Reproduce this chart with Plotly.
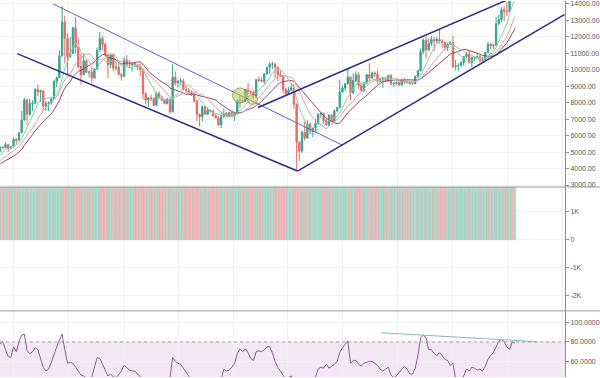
import pandas as pd
import plotly.graph_objects as go
from plotly.subplots import make_subplots

# ---------------- data (3-day candles) ----------------
start_date = "2019-04-16"

# closes before the visible window (only used to warm up the moving averages)
pre_closes = [3800, 3820, 3850, 3880, 3860, 3880, 4000, 4050, 4000, 3950,
              4100, 4150, 4950, 5200, 5150, 5050]

closes = [
    5300, 5270, 5450, 5250, 5320, 5770, 5720, 6180, 6950, 8190,
    7300, 7950, 7980, 8800, 8650, 8720, 7800, 7950, 8000, 8230,
    9300, 9520, 10850, 12900, 11900, 10800, 11000, 12550, 11350, 10200,
    9700, 10550, 9850, 9870, 9500, 10050, 11200, 11900, 11550, 10900,
    10300, 10900, 10100, 10150, 9720, 9600, 10600, 10300, 10300, 10400,
    10300, 10150, 9990, 8550, 8150, 8300, 8250, 7850, 8550, 8300,
    8150, 7960, 8200, 7450, 9550, 9200, 9300, 9320, 8800, 8750,
    8650, 8500, 8100, 7300, 7150, 7750, 7300, 7550, 7500, 7220,
    7080, 6650, 7150, 7350, 7200, 7400, 7200, 7350, 8150, 8150,
    8100, 8800, 8700, 8650, 8400, 9400, 9350, 9300, 9750, 10150,
    10350, 10350, 10150, 9700, 9650, 8800, 8550, 8750, 8900, 7900,
    5600, 5050, 6200, 5850, 6700, 6250, 6450, 6750, 7300, 7350,
    6900, 6650, 7250, 6850, 7500, 7700, 8650, 8900, 9150, 9550,
    8600, 9350, 9700, 9050, 8750, 9200, 9700, 9500, 9800, 9750,
    9300, 9400, 9450, 9350, 9650, 9150, 9180, 9230, 9080, 9430,
    9250, 9250, 9150, 9170, 9600, 9950, 11100, 11800, 11200, 11600,
    11850, 11750, 11850, 11750, 11650, 11350, 11550, 11650, 10200, 10250,
    10250, 10450, 10800, 10950, 10450, 10750, 10750, 10800, 10550, 10600,
    11050, 11550, 11450, 11500, 12800, 13050, 13650, 13550, 13550, 15600,
    15500, 15700]

highs = [
    5350, 5360, 5600, 5500, 5350, 5900, 5850, 6200, 7500, 8300,
    8250, 8250, 8150, 8900, 9100, 8800, 8750, 8100, 8100, 8300,
    9400, 9600, 11200, 13900, 13300, 12200, 12000, 12600, 13200, 11950,
    11000, 11000, 10650, 9950, 10100, 10100, 11350, 12300, 12050, 11650,
    11000, 10950, 10950, 10500, 10600, 9800, 10800, 10900, 10550, 10450,
    10450, 10350, 10400, 10100, 8650, 8350, 8500, 8350, 8650, 8700,
    8450, 8250, 8300, 8300, 10350, 9900, 9400, 9500, 9450, 9100,
    8900, 8750, 8550, 8200, 7350, 7850, 7800, 7700, 7600, 7600,
    7300, 7200, 7400, 7650, 7450, 7450, 7500, 7400, 8200, 8450,
    8300, 8850, 9200, 8750, 8750, 9450, 9600, 9550, 9800, 10200,
    10450, 10500, 10450, 10200, 9950, 9700, 8900, 8950, 9200, 9150,
    7950, 5650, 6300, 6850, 6950, 6800, 6500, 7000, 7350, 7450,
    7400, 7000, 7300, 7300, 7600, 7750, 9400, 9050, 9200, 10050,
    9600, 9800, 9900, 9850, 9250, 9250, 9750, 10400, 9900, 9900,
    9950, 9500, 9550, 9550, 9700, 9750, 9250, 9300, 9300, 9450,
    9500, 9350, 9300, 9200, 9650, 10000, 11300, 11900, 12000, 11900,
    12050, 12000, 12000, 12450, 11850, 11700, 11600, 11750, 12050, 10600,
    10400, 10500, 10850, 11100, 11200, 10800, 10800, 10950, 10900, 10800,
    11100, 11700, 11650, 11600, 13200, 13350, 13800, 13850, 14100, 15750,
    15950, 15850]

lows = [
    5000, 5200, 5260, 5000, 5150, 5300, 5500, 5700, 6150, 6900,
    6600, 7200, 7500, 7900, 8400, 8050, 7500, 7500, 7500, 7900,
    8200, 8950, 9500, 10800, 10400, 9700, 10700, 10950, 11000, 10100,
    9100, 9700, 9800, 9550, 9200, 9450, 10000, 11100, 11200, 10800,
    9500, 10100, 9900, 9950, 9650, 9350, 9600, 10200, 10100, 9900,
    10150, 10000, 9600, 8200, 7900, 7750, 8100, 7800, 7800, 8250,
    8100, 7900, 7900, 7350, 7400, 9050, 8950, 9050, 8750, 8650,
    8550, 8400, 8000, 6900, 6550, 6850, 7250, 7250, 7400, 7150,
    7050, 6600, 6450, 7100, 7150, 7100, 7150, 6900, 7300, 7700,
    8000, 8050, 8500, 8500, 8250, 8300, 9250, 9250, 9100, 9700,
    9750, 10050, 9500, 9300, 9550, 8550, 8450, 8500, 8700, 7650,
    3850, 4450, 4950, 5700, 5800, 6100, 5900, 6200, 6650, 7100,
    6750, 6600, 6600, 6800, 6800, 7450, 7650, 8600, 8700, 9100,
    8150, 8550, 9250, 8850, 8700, 8650, 9100, 9250, 9450, 9550,
    9150, 9250, 8900, 9250, 9250, 9050, 8950, 9050, 9000, 9000,
    9150, 9150, 9100, 9100, 9120, 9500, 9900, 10950, 10700, 11150,
    11450, 11150, 11600, 11600, 11350, 11150, 11150, 11500, 10100, 9950,
    9900, 10200, 10250, 10700, 10350, 10150, 10550, 10650, 10400, 10500,
    10550, 11000, 11250, 11250, 11400, 12700, 12900, 12950, 13250, 13500,
    14400, 15100]

rsi_values = [
    78, 80, 72, 65, 64, 75, 70, 80, 87, 88,
    71, 68, 70, 74, 72, 62, 54, 50, 52, 59,
    68, 75, 82, 88, 72, 58, 59, 58, 54, 50,
    46, 45, 42, 40, 44, 55, 64, 63, 57, 50,
    45, 47, 44, 43, 46, 50, 56, 53, 51, 50,
    50, 47, 44, 36, 32, 34, 35, 33, 40, 39,
    37, 35, 38, 42, 64, 60, 58, 57, 53, 49,
    44, 41, 37, 30, 28, 38, 35, 38, 37, 35,
    34, 30, 40, 52, 50, 51, 54, 58, 68, 73,
    70, 73, 69, 63, 61, 70, 71, 70, 72, 75,
    75, 69, 60, 54, 50, 45, 41, 43, 45, 35,
    22, 25, 35, 33, 40, 38, 39, 44, 52, 54,
    53, 57, 53, 55, 57, 60, 69, 74, 77, 81,
    58, 61, 61, 57, 55, 58, 59, 60, 60, 58,
    56, 52, 50, 52, 54, 46, 43, 45, 49, 52,
    55, 52, 47, 47, 53, 66, 84, 87, 84, 72,
    72, 68, 66, 69, 66, 62, 61, 56, 58, 42,
    37, 39, 45, 52, 50, 54, 53, 51, 52, 50,
    55, 62, 66, 69, 75, 81, 83, 80, 75, 72,
    80, 79]

# the lower pane's bars all run past the top of the pane (read as clipped)
bar_level = 2000

# trend lines drawn on the chart: (dates, prices)
trend_upper_desc = (["2019-06-14", "2020-05-01"], [14000, 5420])
trend_lower_desc = (["2019-05-05", "2020-03-12"], [10980, 3850])
trend_lower_asc = (["2020-03-12", "2021-01-03"], [3850, 13350])
trend_upper_asc = (["2020-01-28", "2020-11-20"], [7710, 14710])
rsi_trend = (["2020-06-13", "2020-12-04"], [89.5, 80.3])

circle_dates = ["2020-01-08", "2020-01-22"]
circle_prices = [8440, 8200]

price_ticks = [3000, 4000, 5000, 6000, 7000, 8000, 9000, 10000,
               11000, 12000, 13000, 14000]
osc_ticks = [-2000, -1000, 0, 1000]
osc_labels = ["-2K", "-1K", "0", "1K"]
rsi_ticks = [40, 60, 80, 100]

# ---------------- derived ----------------
n = len(closes)
dates = pd.date_range(start_date, periods=n, freq="3D")
opens = [pre_closes[-1]] + closes[:-1]
all_closes = pd.Series(pre_closes + closes, dtype=float)
k = len(pre_closes)
ma_fast = all_closes.rolling(7).mean().iloc[k:].to_numpy()
ma_mid = all_closes.rolling(12).mean().iloc[k:].to_numpy()
ma_slow = all_closes.rolling(17).mean().iloc[k:].to_numpy()

UP = "#34a58c"
DN = "#e36a6a"
bar_colors = ["#a6dfcd" if c >= o else "#f6b9b9" for o, c in zip(opens, closes)]

fig = make_subplots(rows=3, cols=1, shared_xaxes=True, vertical_spacing=0)

fig.add_trace(go.Bar(x=dates, y=[bar_level] * n,
                     marker=dict(color=bar_colors,
                                 line=dict(width=0.6, color="rgba(185,185,180,0.8)")),
                     width=3 * 86400000), row=2, col=1)

fig.add_trace(go.Candlestick(
    x=dates, open=opens, high=highs, low=lows, close=closes,
    increasing=dict(line=dict(color=UP, width=1), fillcolor=UP),
    decreasing=dict(line=dict(color=DN, width=1), fillcolor=DN),
    whiskerwidth=0), row=1, col=1)

fig.add_trace(go.Scatter(x=dates, y=ma_slow, mode="lines",
                         line=dict(color="#9a4468", width=1)), row=1, col=1)
fig.add_trace(go.Scatter(x=dates, y=ma_mid, mode="lines",
                         line=dict(color="#d9a3a3", width=1)), row=1, col=1)
fig.add_trace(go.Scatter(x=dates, y=ma_fast, mode="lines",
                         line=dict(color="#8fcca6", width=1)), row=1, col=1)

for (tx, ty), col, w in [(trend_upper_desc, "#6a5fbf", 1),
                         (trend_lower_desc, "#2d2d80", 1.5),
                         (trend_lower_asc, "#2d2d80", 1.5),
                         (trend_upper_asc, "#2d2d80", 1.5)]:
    fig.add_trace(go.Scatter(x=tx, y=ty, mode="lines", line=dict(color=col, width=w)),
                  row=1, col=1)

fig.add_trace(go.Scatter(x=circle_dates, y=circle_prices, mode="markers",
                         marker=dict(size=[15, 10], color="rgba(196,200,96,0.8)",
                                     line=dict(color="rgba(110,125,40,0.9)", width=1))),
              row=1, col=1)

fig.add_trace(go.Scatter(x=dates, y=rsi_values, mode="lines",
                         line=dict(color="#8a5a92", width=1)), row=3, col=1)
fig.add_trace(go.Scatter(x=rsi_trend[0], y=rsi_trend[1], mode="lines",
                         line=dict(color="#7fbfae", width=1)), row=3, col=1)

top_split = 1 - 187 / 378
mid_split = 1 - 311.5 / 378

fig.update_layout(
    width=600, height=378, margin=dict(l=0, r=35, t=0, b=0),
    paper_bgcolor="white", plot_bgcolor="white", showlegend=False, bargap=0,
    font=dict(family="Liberation Sans, Arial, sans-serif"),
    yaxis=dict(domain=[top_split, 1], range=[2879, 14181], tickvals=price_ticks,
               tickformat=".2f"),
    yaxis2=dict(domain=[mid_split, top_split], range=[-2540, 1890],
                tickvals=osc_ticks, ticktext=osc_labels),
    yaxis3=dict(domain=[0, mid_split], range=[43.9, 112.1], tickvals=rsi_ticks,
                tickformat=".4f"),
    shapes=[
        dict(type="rect", xref="paper", yref="y3", x0=0, x1=1, y0=20, y1=80,
             fillcolor="#f4e7f5", line=dict(width=0), layer="below"),
        dict(type="line", xref="paper", yref="y3", x0=0, x1=1, y0=80, y1=80,
             line=dict(color="#a0a0a0", width=1, dash="3px,3px")),
        dict(type="line", xref="paper", yref="paper", x0=0, x1=1.062,
             y0=top_split, y1=top_split, line=dict(color="#9a9a9a", width=1)),
        dict(type="line", xref="paper", yref="paper", x0=0, x1=1.062,
             y0=mid_split, y1=mid_split, line=dict(color="#9a9a9a", width=1)),
    ],
)

fig.update_xaxes(type="date", range=["2019-04-15 21:00", "2021-01-03 17:00"],
                 showticklabels=False, showgrid=True, gridcolor="#f0f0f0",
                 tick0="2019-05-01", dtick="M2", ticks="", zeroline=False,
                 showline=False, rangeslider=dict(visible=False))
fig.update_yaxes(side="right", showline=True, linecolor="#8a8a8a", linewidth=1,
                 ticks="outside", ticklen=3, tickcolor="#8a8a8a",
                 tickfont=dict(size=7, color="#555555"), ticklabeloverflow="allow",
                 showgrid=True, gridcolor="#f2f2f2", zeroline=False)

fig.write_html("out.html",
               config={"displayModeBar": False},
               post_script="document.body.style.margin='0';"
                           "document.body.style.overflow='hidden';")
